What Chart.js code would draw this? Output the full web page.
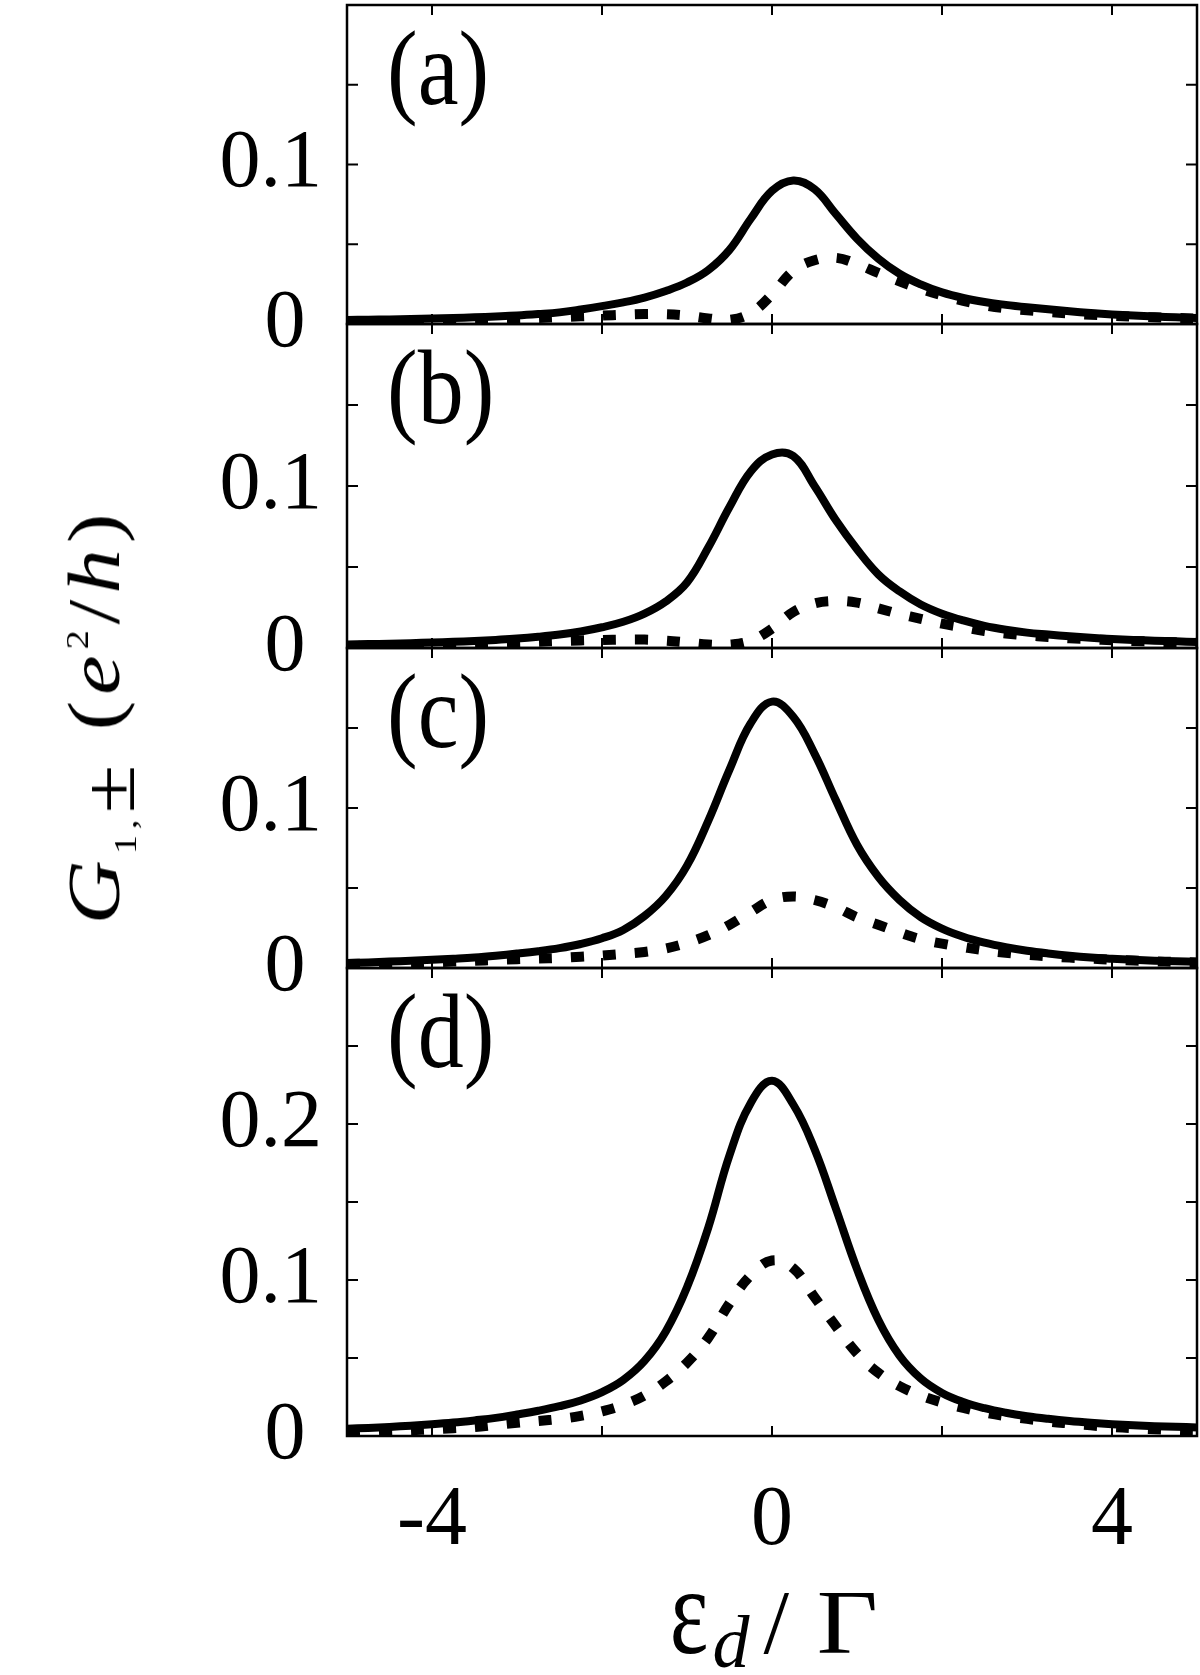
<!DOCTYPE html>
<html>
<head>
<meta charset="utf-8">
<script src="https://cdn.jsdelivr.net/npm/chart.js@4.4.0/dist/chart.umd.min.js"></script>
<style>
  body { margin: 0; background: #fff; }
  #wrap { position: relative; width: 1200px; height: 1675px; overflow: hidden;
          font-family: "Liberation Serif", "Times New Roman", serif; color: #000; }
  #wrap canvas { position: absolute; left: 0; }
  #ytitle { position: absolute; left: 94px; top: 716px; font-size: 74px; line-height: 1;
            white-space: nowrap; transform: translate(-50%, -50%) rotate(-90deg) scaleX(1.2);
            letter-spacing: 5px; }
  #ytitle .sub { font-size: 32px; position: relative; top: 17px; }
  #ytitle .pm { position: relative; top: 15px; }
  #ytitle .sup { font-size: 32px; position: relative; top: -31px; }
  #xtitle { position: absolute; left: 770px; top: 1576px; font-size: 92px; line-height: 1;
            white-space: nowrap; transform: translateX(-50%); }
  #xtitle .eps { display: inline-block; transform: scaleY(1.35); transform-origin: 50% 84%; }
  #xtitle .d { font-size: 74px; position: relative; top: 14px; margin-left: 4px; margin-right: 14px; }
  #xtitle .gam { display: inline-block; transform: scaleX(1.15); transform-origin: 0 50%; margin-left: 28px; }
</style>
</head>
<body>
<div id="wrap">
  <div id="ytitle"><i>G</i><span class="sub">1,</span><span class="pm">±</span>&nbsp;(<i>e</i><span class="sup">2</span>/<i>h</i>)</div>
  <div id="xtitle"><span class="eps">ε</span><i class="d">d</i>/<span class="gam">Γ</span></div>
</div>
<script>
// energy axis, eps_d / Gamma
const epsX = [-5, -4.75, -4.5, -4.25, -4, -3.75, -3.5, -3.25, -3, -2.75, -2.5, -2.25, -2, -1.75, -1.5, -1.25, -1,
              -0.75, -0.5, -0.25, 0, 0.25, 0.5, 0.75, 1, 1.25, 1.5, 1.75, 2, 2.25, 2.5, 2.75, 3, 3.25, 3.5,
              3.75, 4, 4.25, 4.5, 4.75, 5];

// solid = G1,+   dashed = G1,-   (e^2/h)
const solidA = [0.0025, 0.0027, 0.0029, 0.0032, 0.0035, 0.0038, 0.0042, 0.0047, 0.0053, 0.0062, 0.0073, 0.0091, 0.0112,
                0.0136, 0.0166, 0.0207, 0.026, 0.0338, 0.0465, 0.066, 0.0835, 0.090, 0.0845, 0.069, 0.0535, 0.041,
                0.0315, 0.0248, 0.0198, 0.0163, 0.0138, 0.012, 0.0105, 0.0092, 0.008, 0.0069, 0.006, 0.0053, 0.0047,
                0.0042, 0.0038];
const dashA  = [0.0012, 0.0013, 0.0015, 0.0017, 0.002, 0.0023, 0.0026, 0.003, 0.0034, 0.0038, 0.0043, 0.0048, 0.0053,
                0.0058, 0.0062, 0.0061, 0.0052, 0.0035, 0.0026, 0.0068, 0.0185, 0.0333, 0.040, 0.0415, 0.0376, 0.032,
                0.0268, 0.022, 0.018, 0.0145, 0.0117, 0.0098, 0.0086, 0.0075, 0.0066, 0.0058, 0.0052, 0.0046, 0.0042,
                0.0038, 0.0034];

const solidB = [0.0022, 0.0024, 0.0027, 0.003, 0.0034, 0.0038, 0.0043, 0.005, 0.0058, 0.0069, 0.0083, 0.0102, 0.0128,
                0.0162, 0.0212, 0.0287, 0.0404, 0.062, 0.087, 0.109, 0.1195, 0.1185, 0.100, 0.079, 0.061, 0.0455,
                0.035, 0.0269, 0.0212, 0.017, 0.0137, 0.0113, 0.0095, 0.0083, 0.0072, 0.0063, 0.0056, 0.005, 0.0045,
                0.0041, 0.0037];
const dashB  = [0.0012, 0.0014, 0.0016, 0.0018, 0.002, 0.0023, 0.0027, 0.0031, 0.0035, 0.0039, 0.0043, 0.0047, 0.005,
                0.0052, 0.0052, 0.0045, 0.0034, 0.0022, 0.0021, 0.0045, 0.012, 0.0222, 0.0275, 0.029, 0.028, 0.0245,
                0.021, 0.018, 0.015, 0.0128, 0.0105, 0.009, 0.0078, 0.0068, 0.006, 0.0054, 0.0048, 0.0043, 0.0039,
                0.0035, 0.0032];

const solidC = [0.0031, 0.0035, 0.004, 0.0045, 0.0051, 0.0058, 0.0066, 0.0077, 0.009, 0.0105, 0.0124, 0.015, 0.0186,
                0.0238, 0.0325, 0.045, 0.064, 0.092, 0.124, 0.153, 0.1665, 0.157, 0.134, 0.105, 0.077, 0.057, 0.0425,
                0.0318, 0.0246, 0.0195, 0.0158, 0.013, 0.0108, 0.0091, 0.0077, 0.0066, 0.0058, 0.0051, 0.0046, 0.0042,
                0.0039];
const dashC  = [0.0025, 0.0027, 0.003, 0.0033, 0.0036, 0.004, 0.0045, 0.005, 0.0055, 0.0059, 0.0063, 0.007, 0.0078,
                0.0088, 0.010, 0.0122, 0.0157, 0.0205, 0.027, 0.035, 0.0425, 0.0447, 0.0425, 0.038, 0.0317, 0.027,
                0.0222, 0.018, 0.0152, 0.013, 0.011, 0.0095, 0.0083, 0.0073, 0.0065, 0.0058, 0.0052, 0.0047, 0.0042,
                0.0038, 0.0035];

const solidD = [0.0046, 0.0052, 0.0058, 0.0066, 0.0075, 0.0086, 0.01, 0.0116, 0.0138, 0.0162, 0.0191, 0.0228, 0.0281,
                0.0359, 0.0481, 0.067, 0.0953, 0.1335, 0.18, 0.2135, 0.2277, 0.2125, 0.184, 0.146, 0.107, 0.0745,
                0.0515, 0.0368, 0.0276, 0.0218, 0.0178, 0.0149, 0.0127, 0.011, 0.0096, 0.0085, 0.0076, 0.0069, 0.0063,
                0.0059, 0.0055];
const dashD  = [0.0025, 0.0028, 0.0032, 0.0037, 0.0043, 0.005, 0.0058, 0.0071, 0.0084, 0.0096, 0.0109, 0.0129, 0.0158,
                0.020, 0.026, 0.035, 0.047, 0.063, 0.085, 0.103, 0.1125, 0.1075, 0.089, 0.0705, 0.053, 0.0405, 0.032,
                0.026, 0.0215, 0.018, 0.015, 0.0127, 0.011, 0.0093, 0.008, 0.0068, 0.0058, 0.005, 0.0043, 0.0038,
                0.0034];

const panelNames = ['(a)', '(b)', '(c)', '(d)'];
const solidSeries = [solidA, solidB, solidC, solidD];
const dashSeries = [dashA, dashB, dashC, dashD];
const yMaxes = [0.2, 0.2, 0.2, 0.3];
const yTickValues = [
  [0, 0.05, 0.1, 0.15, 0.2],
  [0, 0.05, 0.1, 0.15, 0.2],
  [0, 0.05, 0.1, 0.15, 0.2],
  [0, 0.05, 0.1, 0.15, 0.2, 0.25, 0.3]
];
const yLabeled = [[0, 0.1], [0, 0.1], [0, 0.1], [0, 0.1, 0.2]];
const xTickValues = [-4, -2, 0, 2, 4];
const xLabeled = [-4, 0, 4];

// page layout (pixels)
const plotLeft = 347, plotRight = 1197;
const panelTop = [5, 324, 648, 968];
const panelBottom = [324, 648, 968, 1436];

Chart.defaults.font.family = '"Liberation Serif", "Times New Roman", serif';
Chart.defaults.color = '#000';

// box around each panel, inward ticks on all four sides, panel letter
const framePlugin = {
  id: 'frame',
  afterDatasetsDraw(chart, args, opts) {
    const ctx = chart.ctx;
    const a = chart.chartArea;
    const xs = chart.scales.x, ys = chart.scales.y;
    ctx.save();
    ctx.strokeStyle = '#000';
    ctx.lineWidth = 2.5;
    ctx.strokeRect(a.left, a.top, a.right - a.left, a.bottom - a.top);
    ctx.lineWidth = 2;
    ctx.beginPath();
    xs.ticks.forEach(t => {
      const px = xs.getPixelForValue(t.value);
      ctx.moveTo(px, a.top); ctx.lineTo(px, a.top + 10);
      ctx.moveTo(px, a.bottom); ctx.lineTo(px, a.bottom - 10);
    });
    ys.ticks.forEach(t => {
      if (t.value <= ys.min + 1e-9 || t.value >= ys.max - 1e-9) return;
      const py = ys.getPixelForValue(t.value);
      ctx.moveTo(a.left, py); ctx.lineTo(a.left + 11, py);
      ctx.moveTo(a.right, py); ctx.lineTo(a.right - 11, py);
    });
    ctx.stroke();
    // panel letter, slightly condensed like the original typesetting
    ctx.fillStyle = '#000';
    ctx.font = '92px "Liberation Serif", "Times New Roman", serif';
    ctx.textBaseline = 'alphabetic';
    ctx.translate(a.left + 40, a.top + 99);
    ctx.scale(1, 1.15);
    ctx.fillText(opts.label, 0, 0);
    ctx.restore();
  }
};

function points(ys) {
  return epsX.map((x, i) => ({x: x, y: ys[i]}));
}

const wrap = document.getElementById('wrap');

for (let i = 0; i < 4; i++) {
  const isLast = i === 3;
  const padTop = i === 0 ? panelTop[0] : 50;
  const canvasTop = panelTop[i] - padTop;
  const padBottom = isLast ? 0 : 50;
  const height = isLast ? 1675 - canvasTop : panelBottom[i] - canvasTop + padBottom;

  const canvas = document.createElement('canvas');
  canvas.width = 1200;
  canvas.height = height;
  canvas.style.top = canvasTop + 'px';
  wrap.insertBefore(canvas, wrap.firstChild);

  new Chart(canvas, {
    type: 'line',
    data: {
      datasets: [
        {
          data: points(dashSeries[i]),
          borderColor: '#000',
          borderWidth: 10,
          borderDash: [13, 19],
          borderCapStyle: 'butt',
          pointRadius: 0,
          tension: 0.4
        },
        {
          data: points(solidSeries[i]),
          borderColor: '#000',
          borderWidth: 8,
          pointRadius: 0,
          tension: 0.4
        }
      ]
    },
    options: {
      responsive: false,
      animation: false,
      layout: {padding: {top: padTop, bottom: padBottom, left: 0, right: 1200 - plotRight}},
      plugins: {
        legend: {display: false},
        tooltip: {enabled: false},
        frame: {label: panelNames[i]}
      },
      scales: {
        x: {
          type: 'linear',
          min: -5,
          max: 5,
          grid: {display: false, drawTicks: false},
          border: {display: false},
          ticks: {
            display: isLast,
            autoSkip: false,
            maxRotation: 0,
            padding: 36,
            font: {size: 84},
            callback: v => xLabeled.includes(v) ? String(v) : ''
          },
          afterBuildTicks: s => { s.ticks = xTickValues.map(v => ({value: v})); },
          afterFit: s => {
            s.height = isLast ? 1675 - panelBottom[3] : 0;
            s.paddingLeft = 0;
            s.paddingRight = 0;
          }
        },
        y: {
          type: 'linear',
          min: 0,
          max: yMaxes[i],
          grid: {display: false, drawTicks: false},
          border: {display: false},
          ticks: {
            autoSkip: false,
            padding: 25,
            font: {size: 82},
            callback: v => {
              const hit = yLabeled[i].find(l => Math.abs(l - v) < 1e-9);
              if (hit === undefined) return '';
              // the lone zero sits a little left of the decimal labels
              return hit === 0 ? '0\u2009' : String(hit);
            }
          },
          afterBuildTicks: s => { s.ticks = yTickValues[i].map(v => ({value: v})); },
          afterFit: s => {
            s.width = plotLeft;
            s.paddingTop = 0;
            s.paddingBottom = 0;
          }
        }
      }
    },
    plugins: [framePlugin]
  });
}
</script>
</body>
</html>
